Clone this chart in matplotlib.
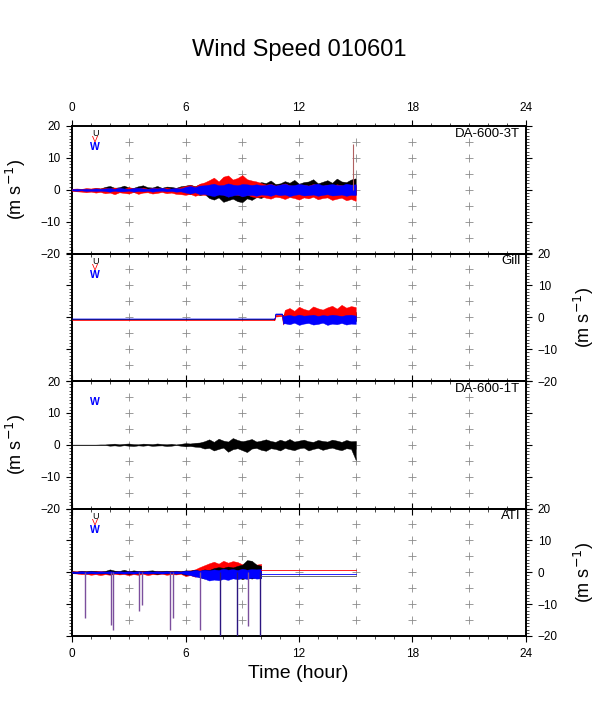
import numpy as np
import matplotlib
matplotlib.use('Agg')
import matplotlib.pyplot as plt
from matplotlib.ticker import MultipleLocator

plt.rcParams['font.family'] = ['Liberation Sans', 'DejaVu Sans']

# ---- data: upper / lower envelopes of each wind component ----
# DA-600-3T, every quarter hour 0..15 h
t_da3 = np.arange(0, 15.01, 0.25)
da3_u_hi = [0.2, 0.3, 0.2, 0.4, 0.3, 0.5, 0.4,
            0.9, 1.2, 0.6, 0.8, 1.3, 0.7, 0.6, 1.1, 1.4, 0.8, 0.7, 1.2, 0.6, 1.0, 0.9, 0.6, 1.1,
            1.3, 1.6, 1.1, 1.7, 1.4,
            1.5, 1.8, 1.3, 1.4, 1.9, 1.6, 1.3, 1.8, 1.5, 1.7,
            1.9, 2.4,
            2.1, 2.9, 1.8, 2.0, 2.7, 2.2, 3.1, 1.9, 2.4, 2.6, 3.3, 2.0, 2.5, 3.0, 2.2, 3.5, 2.6,
            2.4, 3.2, 3.6]
da3_u_lo = [-0.2, -0.3, -0.2, -0.3, -0.2, -0.4, -0.3,
            -0.4, -0.6, -0.3, -0.5, -0.4, -0.3, -0.6, -0.5, -0.3, -0.4, -0.6, -0.3, -0.5, -0.4,
            -0.3, -0.6, -0.4,
            -1.0, -1.4, -0.9, -1.7, -1.3,
            -2.6, -3.1, -2.4, -3.8, -3.3, -2.8, -3.6, -3.9, -2.7, -3.2,
            -2.3, -2.6,
            -1.6, -1.4, -2.1, -1.3, -1.5, -1.9, -1.2, -1.7, -1.4, -1.3, -2.0, -1.5, -1.2, -1.6,
            -1.8, -1.3, -1.4, -1.7, -1.2, -1.5]
da3_v_hi = [0.3, 0.4, 0.3, 0.5, 0.4, 0.6, 0.4,
            0.6, 0.4, 0.7, 0.5, 0.3, 0.8, 0.5, 0.4, 0.7, 0.3, 0.6, 0.5, 0.4, 0.7, 0.3, 0.5, 0.8,
            1.2, 1.5, 1.0, 1.9, 2.3,
            3.0, 3.8, 2.6, 4.1, 4.5, 3.2, 3.7, 4.6, 3.3, 2.9,
            2.6, 2.1,
            1.6, 1.9, 1.3, 1.5, 2.0, 1.4, 1.2, 1.7, 1.5, 1.3, 1.8, 1.4, 1.2, 1.6, 1.3, 1.7, 1.4,
            1.2, 1.5, 1.6]
da3_v_lo = [-0.4, -0.5, -0.6, -0.8, -0.6, -0.9, -0.7,
            -1.1, -0.9, -1.4, -0.8, -1.0, -1.2, -0.7, -1.3, -0.9, -0.8, -1.2, -1.0, -0.7, -1.1,
            -0.9, -1.3, -1.4,
            -1.6, -1.3, -1.9, -1.5, -1.6,
            -1.4, -1.7, -1.3, -1.5, -1.8, -1.4, -1.6, -1.9, -1.5, -2.1,
            -2.4, -2.1,
            -2.5, -2.8, -2.2, -2.4, -2.9, -2.3, -2.6, -3.1, -2.4, -2.7, -2.2, -3.0, -2.6, -2.4,
            -3.2, -2.8, -2.5, -3.3, -2.9, -3.5]
da3_w_hi = [0.2, 0.3, 0.2, 0.3, 0.2, 0.4, 0.3,
            0.4, 0.5, 0.3, 0.6, 0.4, 0.3, 0.5, 0.6, 0.4, 0.3, 0.5, 0.4, 0.6, 0.3, 0.4, 0.5, 0.4,
            0.9, 1.2, 0.8, 1.3, 1.4,
            1.6, 1.9, 1.4, 1.5, 2.0, 1.6, 1.4, 1.8, 1.7, 1.5,
            1.7, 1.4,
            1.5, 1.8, 1.3, 1.6, 1.9, 1.4, 1.5, 1.8, 1.6, 1.3, 1.7, 1.9, 1.4, 1.6, 1.8, 1.5, 1.4,
            1.9, 1.6, 1.7]
da3_w_lo = [-0.2, -0.3, -0.2, -0.4, -0.3, -0.4, -0.3,
            -0.4, -0.6, -0.3, -0.5, -0.5, -0.3, -0.6, -0.4, -0.5, -0.3, -0.6, -0.4, -0.3, -0.5,
            -0.4, -0.6, -0.5,
            -0.9, -1.2, -0.8, -1.4, -1.3,
            -1.7, -2.0, -1.5, -1.6, -2.2, -1.8, -1.5, -2.1, -1.7, -1.6,
            -1.9, -1.5,
            -1.6, -1.9, -1.4, -1.7, -1.5, -2.0, -1.6, -1.4, -1.8, -1.7, -1.5, -1.9, -1.6, -1.4,
            -1.8, -1.7, -1.5, -1.9, -1.6, -1.7]
da3_spike_t = [14.85]
da3_spike_v = [14.4]

# Gill
t_gill = [0, 10.7, 10.75, 11.1, 11.15, 11.25, 11.5, 11.75, 12, 12.25, 12.5, 12.75, 13,
          13.25, 13.5, 13.75, 14, 14.25, 14.5, 14.75, 15]
gill_u_hi = [-0.5, -0.5, 1.0, 1.1, 0.5,
             1.4, 1.1, 1.8, 1.6, 1.2, 2.0, 1.5, 1.3, 1.9, 1.7, 1.2, 2.1, 1.6, 1.4, 2.2, 1.7]
gill_u_lo = [-0.5, -0.5, 0.8, 0.9, -1.8,
             -1.0, -1.3, -0.9, -1.4, -1.2, -0.9, -1.5, -1.1, -1.0, -1.4, -1.2, -0.9, -1.5, -1.3,
             -1.0, -1.2]
gill_v_hi = [-0.9, -0.9, 0.6, 0.8, 0.0,
             2.3, 2.9, 2.0, 3.3, 2.6, 2.2, 3.4, 2.8, 2.4, 3.1, 3.6, 2.7, 3.9, 3.0, 3.5, 3.2]
gill_v_lo = [-0.9, -0.9, 0.2, 0.4, -2.3,
             -0.3, -0.5, -0.2, -0.4, -0.3, -0.5, -0.2, -0.4, -0.3, -0.5, -0.3, -0.2, -0.4, -0.5,
             -0.3, -0.4]
gill_w_hi = [-0.4, -0.4, 1.2, 1.2, 0.3,
             0.5, 0.7, 0.4, 0.8, 0.5, 0.6, 0.8, 0.4, 0.7, 0.5, 0.8, 0.6, 0.4, 0.7, 0.8, 0.5]
gill_w_lo = [-0.4, -0.4, 0.9, 1.0, -2.0,
             -1.9, -2.2, -1.7, -2.4, -2.0, -1.8, -2.3, -2.1, -1.7, -2.4, -2.0, -2.2, -1.8, -2.3,
             -2.0, -2.1]

# DA-600-1T (only U), every quarter hour 0..15 h
t_da1 = np.arange(0, 15.01, 0.25)
da1_u_hi = [0.05, 0.05, 0.05, 0.05, 0.05, 0.05, 0.1, 0.1,
            0.25, 0.35, 0.15, 0.3, 0.4, 0.2, 0.15, 0.35, 0.3, 0.2, 0.4, 0.25, 0.15, 0.3,
            0.1, 0.3, 0.5, 0.4, 0.6, 0.7,
            1.1, 1.7, 0.9, 1.9, 1.3, 1.0, 2.1, 1.5, 1.1, 1.4, 1.8, 1.0, 1.3, 1.7, 1.2, 0.9, 1.6,
            1.1, 1.8, 1.0, 1.3, 1.6, 1.1, 0.9, 1.5, 1.2, 1.0, 1.6, 1.3, 0.9, 1.5, 1.1, 1.2]
da1_u_lo = [-0.05, -0.05, -0.05, -0.05, -0.05, -0.05, -0.1, -0.1,
            -0.3, -0.2, -0.35, -0.15, -0.3, -0.4, -0.2, -0.3, -0.15, -0.35, -0.25, -0.2, -0.4,
            -0.3,
            -0.1, -0.3, -0.5, -0.4, -0.6, -0.7,
            -1.2, -1.0, -1.8, -1.3, -0.9, -2.2, -1.4, -1.1, -1.7, -2.3, -1.2, -1.0, -1.6, -1.9,
            -1.1, -1.3, -1.8, -1.0, -1.4, -1.7, -1.1, -0.9, -1.8, -1.3, -1.0, -1.6, -1.2, -0.9,
            -1.4, -1.7, -1.1, -1.3, -4.8]

# ATI, noisy part every quarter hour 0..10 h
t_ati = np.arange(0, 10.01, 0.25)
ati_u_hi = [0.3, 0.2, 0.4, 0.3, 0.5, 0.3, 0.2, 0.4, 0.9, 0.5, 0.4, 0.8, 0.3, 0.6, 0.4, 0.3,
            0.5, 0.6, 0.3, 0.4, 0.5, 0.3, 0.4, 0.3,
            0.6, 0.5, 0.8, 0.4, 0.9, 0.7, 1.3, 1.6, 1.4, 1.8, 1.5, 2.0, 2.4, 3.8, 3.6, 2.4, 2.0]
ati_u_lo = [-0.3, -0.2, -0.3, -0.4, -0.3, -0.2, -0.4, -0.3, -0.5, -0.3, -0.4, -0.3, -0.5, -0.3,
            -0.4, -0.2, -0.4, -0.3, -0.5, -0.3, -0.4, -0.3, -0.4, -0.3,
            -0.8, -0.6, -1.0, -1.5, -2.0, -1.6, -1.4, -1.2, -1.6, -1.2, -1.8, -1.4, -2.2, -1.6,
            -2.0, -1.5, -1.8]
ati_v_hi = [0.4, 0.3, 0.5, 0.3, 0.3, 0.5, 0.4, 0.3, 0.5, 0.4, 0.3, 0.3, 0.5, 0.4, 0.3, 0.5,
            0.3, 0.4, 0.5, 0.3, 0.3, 0.4, 0.5, 0.3,
            0.5, 0.6, 0.9, 1.6, 2.2, 2.8, 3.3, 2.7, 3.6, 3.0, 3.5, 3.2, 2.5, 2.2, 2.7, 2.4, 2.6]
ati_v_lo = [-0.3, -0.4, -0.6, -0.5, -0.8, -0.6, -0.9, -0.6, -0.8, -0.5, -0.7, -0.6, -0.9, -0.6,
            -0.8, -0.5, -0.9, -0.6, -0.7, -0.5, -0.8, -0.6, -0.7, -0.5,
            -1.2, -0.9, -1.4, -1.1, -1.3, -1.0,
            -0.9, -0.7, -1.0, -0.8, -1.1, -0.7, -0.9, -0.8, -1.2, -0.9, -1.3]
ati_w_hi = [0.2, 0.2, 0.3, 0.2, 0.3, 0.2, 0.3, 0.2, 0.3, 0.2, 0.3, 0.2, 0.3, 0.2, 0.3, 0.2,
            0.3, 0.2, 0.3, 0.2, 0.3, 0.2, 0.3, 0.2,
            0.5, 0.4, 0.7, 0.5, 0.8, 0.6,
            0.9, 0.7, 1.1, 0.8, 1.0, 0.7, 1.1, 0.8, 1.0, 0.9, 1.0]
ati_w_lo = [-0.2, -0.3, -0.3, -0.4, -0.3, -0.4, -0.3, -0.3, -0.4, -0.3, -0.3, -0.4, -0.3, -0.4,
            -0.3, -0.3, -0.4, -0.3, -0.3, -0.4, -0.3, -0.3, -0.4, -0.3,
            -0.6, -0.9, -1.3, -1.6, -2.0, -2.6, -2.3, -2.5, -2.1, -2.4, -1.9, -2.2, -1.8, -2.1,
            -1.7, -2.0, -1.9]
# flat part 10..15 h
t_ati_flat = [10.0, 15.0]
ati_u_flat = [-1.2, -1.2]
ati_v_flat = [0.8, 0.8]
ati_w_flat = [-0.4, -0.4]
# downward spikes
ati_spike_t = [0.68, 2.05, 2.18, 3.54, 3.70, 5.19, 5.35, 6.75, 7.82, 8.70, 9.32, 9.93]
ati_spike_v = [-14.3, -16.4, -18.2, -12.3, -10.2, -18.2, -14.3, -18.2, -20.5, -20.5, -17.0, -20.5]

names = ['DA-600-3T', 'Gill', 'DA-600-1T', 'ATI']
C_U, C_V, C_W = 'black', 'red', 'blue'


def band(ax, t, lo, hi, c):
    ax.fill_between(t, lo, hi, color=c, lw=0.3, zorder=3)


fig = plt.figure(figsize=(5.98, 7.09), dpi=100)
W, H = 598.0, 709.0
left, width = 72 / W, 454 / W
ph = 127.5 / H
axes = []
for i in range(4):
    bottom = 1 - (126 + 127.5 * (i + 1)) / H
    ax = fig.add_axes([left, bottom, width, ph])
    ax.set_facecolor('none')
    axes.append(ax)

gx, gy = np.meshgrid(np.arange(3, 22, 3), np.arange(-15, 16, 5))
for i, ax in enumerate(axes):
    ax.set_xlim(0, 24)
    ax.set_ylim(-20, 20)
    ax.xaxis.set_major_locator(MultipleLocator(6))
    ax.xaxis.set_minor_locator(MultipleLocator(1))
    ax.yaxis.set_major_locator(MultipleLocator(10))
    ax.yaxis.set_minor_locator(MultipleLocator(1))
    ax.tick_params(which='both', direction='out', top=True, bottom=True, left=True, right=True,
                   labelsize=8.5, width=0.8, pad=4.5)
    ax.tick_params(which='major', length=4)
    ax.tick_params(which='minor', length=2, width=0.5)
    for s in ax.spines.values():
        s.set_linewidth(1.4)
    ax.tick_params(labeltop=(i == 0), labelbottom=(i == 3),
                   labelleft=(i % 2 == 0), labelright=(i % 2 == 1))
    # grey crosses
    ax.plot(gx.ravel(), gy.ravel(), '+', color='#8c8c8c', ms=6, mew=0.6, zorder=1)
    ax.text(23.7, 17.5, names[i], ha='right', va='center', fontsize=9.5)
    ax.set_ylabel('(m s$^{-1}$)', fontsize=13)
    if i % 2 == 0:
        ax.yaxis.set_label_coords(-0.097, 0.5)
    else:
        ax.yaxis.set_label_position('right')
        ax.yaxis.set_label_coords(1.101, 0.5)

# legend letters
for i in (0, 1, 3):
    axes[i].text(1.22, 17.6, 'U', color=C_U, ha='center', va='center', fontsize=6.5, zorder=5)
    axes[i].text(1.22, 15.7, 'V', color=C_V, ha='center', va='center', fontsize=6.5, zorder=5)
    axes[i].text(1.22, 13.4, 'W', color=C_W, ha='center', va='center', fontsize=7.5,
                 fontweight='bold', zorder=5)
axes[2].text(1.22, 13.4, 'W', color=C_W, ha='center', va='center', fontsize=7.5,
             fontweight='bold', zorder=5)

# panel 1
ax = axes[0]
band(ax, t_da3, da3_u_lo, da3_u_hi, C_U)
band(ax, t_da3, da3_v_lo, da3_v_hi, C_V)
band(ax, t_da3, da3_w_lo, da3_w_hi, C_W)
ax.vlines(da3_spike_t, 0, da3_spike_v, colors='#b06060', lw=0.8, zorder=4)

# panel 2
ax = axes[1]
band(ax, t_gill, gill_u_lo, gill_u_hi, C_U)
band(ax, t_gill, gill_v_lo, gill_v_hi, C_V)
band(ax, t_gill, gill_w_lo, gill_w_hi, C_W)

# panel 3
ax = axes[2]
band(ax, t_da1, da1_u_lo, da1_u_hi, C_U)

# panel 4
ax = axes[3]
band(ax, t_ati, ati_v_lo, ati_v_hi, C_V)
band(ax, t_ati, ati_u_lo, ati_u_hi, C_U)
band(ax, t_ati, ati_w_lo, ati_w_hi, C_W)
ax.plot(t_ati_flat, ati_v_flat, color=C_V, lw=0.6, zorder=3)
ax.plot(t_ati_flat, ati_w_flat, color=C_W, lw=0.6, zorder=3)
ax.plot(t_ati_flat, ati_u_flat, color='#555555', lw=0.6, zorder=3)
spike_cols = ['#2b1580' if v < -20 else '#7b4f9d' for v in ati_spike_v]
ax.vlines(ati_spike_t, 0, ati_spike_v, colors=spike_cols, lw=1.0, zorder=4)

fig.text(0.5, 1 - 50 / H, 'Wind Speed 010601', ha='center', va='center', fontsize=17)
fig.text(298 / W, 1 - 673 / H, 'Time (hour)', ha='center', va='center', fontsize=14)

fig.savefig('out.png', dpi=100)
